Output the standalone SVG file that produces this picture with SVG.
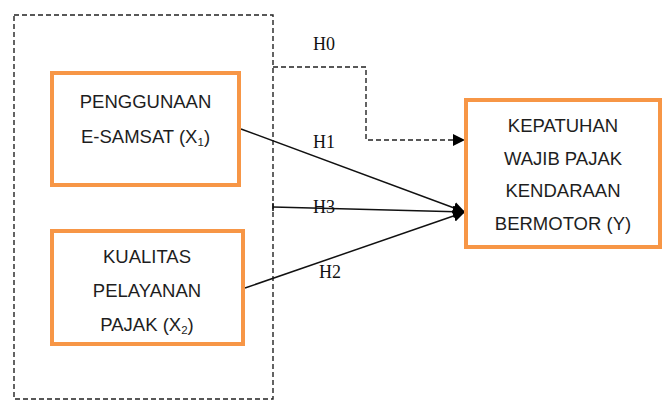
<svg xmlns="http://www.w3.org/2000/svg" width="663" height="401" viewBox="0 0 663 401">
  <style>
    .box { fill: #ffffff; stroke: #F79646; stroke-width: 4; }
    .lbl { font-family: "Liberation Sans", Arial, sans-serif; font-size: 18.5px; fill: #1e1e1e; text-anchor: middle; }
    .hl { font-family: "Liberation Serif", "Times New Roman", serif; font-size: 18px; fill: #111111; }
    .dash { fill: none; stroke: #222222; stroke-width: 1.4; stroke-dasharray: 5 3; }
    .solid { fill: none; stroke: #111111; stroke-width: 1.5; }
  </style>
  <defs>
    <marker id="arr" markerUnits="userSpaceOnUse" markerWidth="14" markerHeight="14" refX="12" refY="6" orient="auto">
      <path d="M0,0 L12,6 L0,12 Z" fill="#000000"/>
    </marker>
  </defs>
  <rect width="663" height="401" fill="#ffffff"/>

  <g id="group-x">
    <rect x="14" y="15" width="259" height="384" class="dash"/>
  </g>

  <g id="connectors">
    <path d="M273,67 H366 V140 H465" class="dash" marker-end="url(#arr)"/>
    <line x1="241" y1="129" x2="465" y2="212" class="solid" marker-end="url(#arr)"/>
    <line x1="273" y1="207" x2="465" y2="212" class="solid" marker-end="url(#arr)"/>
    <line x1="273" y1="203" x2="273" y2="211" class="solid"/>
    <line x1="245" y1="288" x2="465" y2="212" class="solid" marker-end="url(#arr)"/>
    <text x="313" y="50" class="hl">H0</text>
    <text x="313" y="148" class="hl">H1</text>
    <text x="313" y="213" class="hl">H3</text>
    <text x="319" y="278" class="hl">H2</text>
  </g>

  <g id="x1">
    <rect x="52" y="73" width="187" height="112" class="box"/>
    <text x="145.5" y="108" class="lbl">PENGGUNAAN</text>
    <text x="145.5" y="143" class="lbl">E-SAMSAT (X<tspan font-size="11.5" dy="3">1</tspan><tspan dy="-3">)</tspan></text>
  </g>

  <g id="x2">
    <rect x="52" y="231" width="191" height="113" class="box"/>
    <text x="147" y="263" class="lbl">KUALITAS</text>
    <text x="147" y="297" class="lbl">PELAYANAN</text>
    <text x="147" y="331" class="lbl">PAJAK (X<tspan font-size="11.5" dy="3">2</tspan><tspan dy="-3">)</tspan></text>
  </g>

  <g id="y">
    <rect x="466" y="100" width="194" height="147" class="box"/>
    <text x="563" y="132" class="lbl">KEPATUHAN</text>
    <text x="563" y="165" class="lbl">WAJIB PAJAK</text>
    <text x="563" y="197" class="lbl">KENDARAAN</text>
    <text x="563" y="230" class="lbl">BERMOTOR (Y)</text>
  </g>
</svg>
